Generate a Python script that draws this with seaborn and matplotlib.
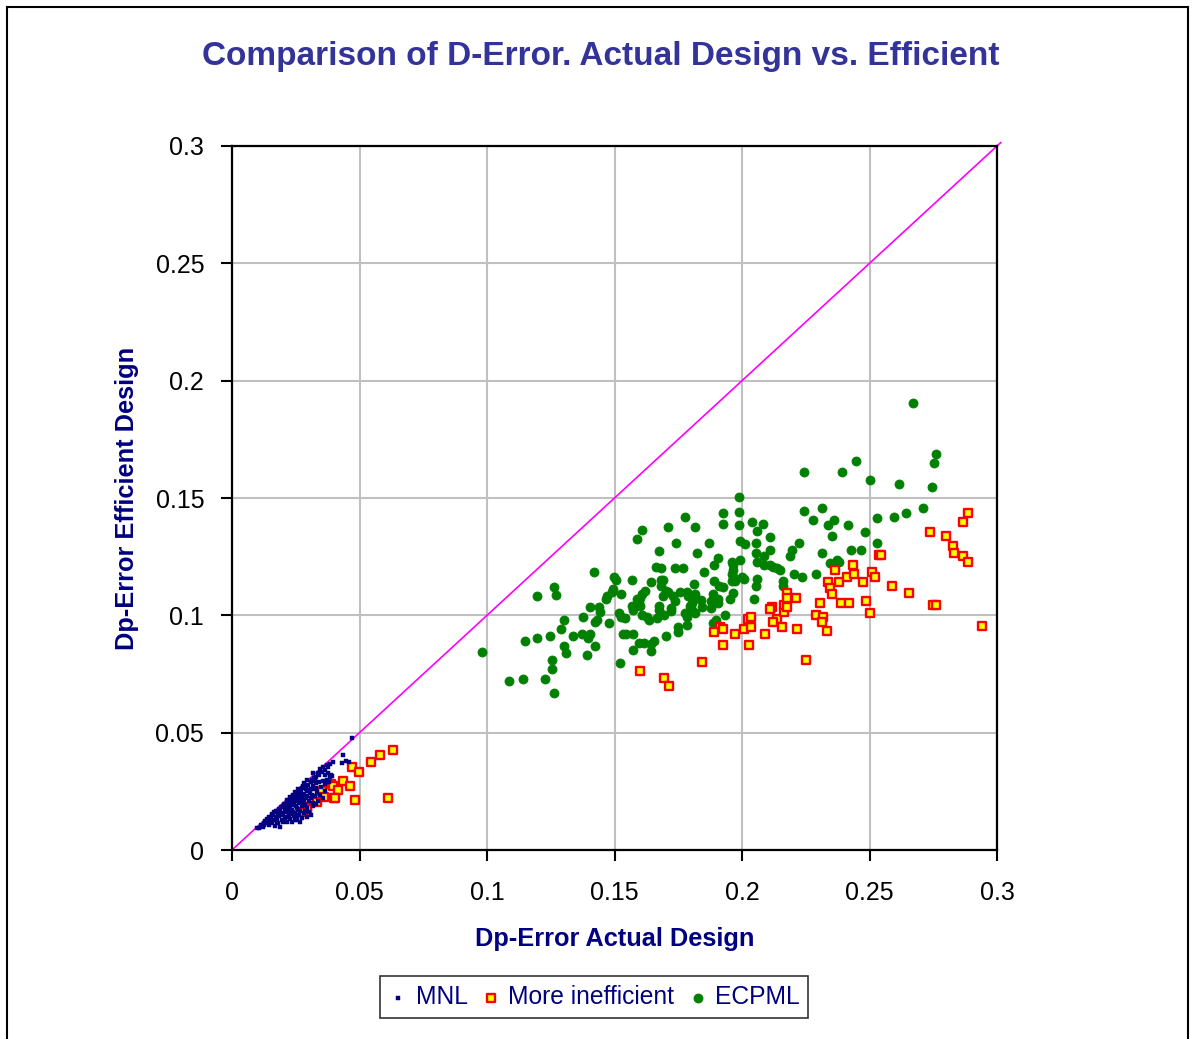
import matplotlib
matplotlib.use("Agg")
import matplotlib.pyplot as plt
import seaborn as sns
import pandas as pd
from matplotlib.patches import Rectangle

# ---------------- data ----------------
mnl_x = [0.0471,0.0437,0.0431,0.0458,0.0397,0.0386,0.0372,0.0344,0.0363,0.0385,0.0392,0.0336,0.0330,0.0316,0.0296,0.0309,0.0329,0.0363,0.0349,0.0364,
         0.0282,0.0275,0.0290,0.0302,0.0317,0.0261,0.0255,0.0268,0.0283,0.0296,0.0309,0.0324,0.0241,0.0228,0.0248,0.0262,0.0283,0.0302,0.0317,0.0337,
         0.0214,0.0201,0.0221,0.0234,0.0256,0.0276,0.0295,0.0188,0.0180,0.0201,0.0222,0.0242,0.0261,0.0281,0.0296,0.0161,0.0154,0.0174,0.0195,0.0214,
         0.0235,0.0255,0.0140,0.0127,0.0146,0.0167,0.0188,0.0120,0.0106,
         0.0205,0.0218,0.0231,0.0244,0.0252,0.0265,0.0271,0.0287,0.0299,0.0312,0.0322,0.0340,0.0351,0.0357,0.0378,0.0226,0.0238,0.0249,0.0259,0.0268,
         0.0278,0.0192,0.0183,0.0173,0.0165,0.0158,0.0147,0.0136,0.0131,0.0152,0.0162,0.0171,0.0178,0.0185,0.0193,0.0207,0.0213,0.0220,0.0227,0.0236,
         0.0245,0.0252,0.0258,0.0265,0.0270,0.0276,0.0286,0.0291,0.0305,0.0313,0.0318,0.0328,0.0334,0.0341,0.0355,0.0346,0.0357,0.0288,0.0302,0.0316,
         0.0329,0.0310,0.0248,0.0239,0.0229,0.0208,0.0199,0.0182,0.0175,0.0157,0.0139,0.0115,0.0125,0.0098,0.0214,0.0230,0.0256,0.0273,0.0266,0.0247,
         0.0208,0.0217,0.0239,0.0260,0.0281,0.0294,0.0308,0.0327,0.0378,0.0389,0.0371,0.0365,0.0381,0.0448]
mnl_y = [0.0479,0.0405,0.0372,0.0376,0.0374,0.0366,0.0362,0.0345,0.0341,0.0313,0.0316,0.0327,0.0311,0.0329,0.0297,0.0291,0.0284,0.0281,0.0268,0.0252,
         0.0285,0.0266,0.0261,0.0254,0.0259,0.0252,0.0240,0.0229,0.0238,0.0231,0.0222,0.0232,0.0231,0.0216,0.0208,0.0201,0.0210,0.0207,0.0201,0.0210,
         0.0203,0.0187,0.0178,0.0171,0.0180,0.0186,0.0178,0.0172,0.0157,0.0150,0.0148,0.0143,0.0150,0.0157,0.0141,0.0150,0.0136,0.0127,0.0129,0.0121,
         0.0119,0.0128,0.0129,0.0113,0.0106,0.0104,0.0099,0.0099,0.0092,
         0.0198,0.0192,0.0201,0.0219,0.0226,0.0239,0.0247,0.0270,0.0279,0.0300,0.0306,0.0319,0.0333,0.0352,0.0355,0.0224,0.0236,0.0247,0.0262,0.0255,
         0.0273,0.0184,0.0176,0.0168,0.0160,0.0154,0.0140,0.0131,0.0122,0.0119,0.0126,0.0142,0.0137,0.0144,0.0156,0.0163,0.0171,0.0161,0.0187,0.0192,
         0.0197,0.0188,0.0172,0.0165,0.0211,0.0198,0.0192,0.0221,0.0243,0.0236,0.0271,0.0264,0.0247,0.0290,0.0295,0.0236,0.0223,0.0166,0.0160,0.0187,
         0.0196,0.0148,0.0158,0.0160,0.0134,0.0137,0.0118,0.0114,0.0120,0.0113,0.0114,0.0106,0.0107,0.0093,0.0142,0.0152,0.0141,0.0135,0.0120,0.0126,
         0.0180,0.0212,0.0210,0.0217,0.0225,0.0250,0.0262,0.0293,0.0329,0.0318,0.0300,0.0319,0.0289,0.0379]

ineff_x = [0.0633,0.0579,0.0545,0.0471,0.0497,0.0436,0.0389,0.0397,0.0463,0.0416,0.0354,0.0362,0.0399,0.0405,0.0484,0.0612,0.0335,0.0295,0.0293,0.0280,
           0.1601,0.1695,0.1715,0.1845,0.1914,0.1927,0.1891,0.1974,0.1925,0.2007,0.2034,0.2022,0.2035,0.2027,0.2089,0.2136,0.2123,0.2156,0.2217,0.2116,
           0.2109,0.2164,0.2164,0.2178,0.2176,0.2176,0.2211,0.2251,0.2291,0.2319,0.2313,0.2332,0.2305,0.2338,0.2345,0.2353,0.2366,0.2380,0.2387,0.2413,
           0.2421,0.2434,0.2440,0.2475,0.2487,0.2502,0.2509,0.2523,0.2537,0.2544,0.2589,0.2656,0.2737,0.2750,0.2760,0.2800,0.2826,0.2833,0.2868,0.2887,
           0.2867,0.2887,0.2942]
ineff_y = [0.0426,0.0405,0.0375,0.0354,0.0331,0.0294,0.0280,0.0273,0.0273,0.0257,0.0250,0.0227,0.0220,0.0220,0.0213,0.0220,0.0206,0.0183,0.0176,0.0162,
           0.0764,0.0735,0.0699,0.0802,0.0949,0.0942,0.0927,0.0919,0.0874,0.0942,0.0949,0.0985,0.0993,0.0874,0.0919,0.0985,0.0972,0.0949,0.0942,0.1037,
           0.1029,0.1015,0.1045,0.1037,0.1096,0.1074,0.1074,0.0810,0.1000,0.0993,0.0972,0.0934,0.1053,0.1141,0.1117,0.1089,0.1192,0.1141,0.1053,0.1163,
           0.1053,0.1214,0.1177,0.1141,0.1060,0.1008,0.1185,0.1162,0.1258,0.1258,0.1126,0.1096,0.1353,0.1044,0.1044,0.1339,0.1295,0.1266,0.1398,0.1434,
           0.1251,0.1228,0.0956]

ecpml_x = [0.0979,0.1086,0.1140,0.1148,0.1195,0.1195,0.1263,0.1269,0.1229,0.1263,0.1256,0.1256,0.1248,0.1289,0.1303,0.1303,0.1310,0.1337,0.1371,0.1378,
           0.1391,0.1397,0.1404,0.1405,0.1418,0.1425,0.1425,0.1431,0.1438,0.1444,
           0.1778,0.1817,0.1710,0.1608,0.1587,0.1742,0.1676,0.1824,0.1662,0.1682,0.1736,0.1770,0.1499,0.1505,0.1567,0.1642,0.1682,0.1691,0.1682,0.1811,
           0.1495,0.1489,0.1621,0.1702,0.1710,0.1757,0.1783,0.1789,0.1817,0.1527,0.1608,0.1601,0.1689,0.1729,0.1472,0.1465,0.1587,0.1736,0.1811,0.1804,
           0.1595,0.1601,0.1567,0.1574,0.1676,0.1676,0.1723,0.1723,0.1797,0.1804,0.1519,0.1525,0.1608,0.1695,0.1776,0.1783,0.1817,0.1627,0.1635,0.1540,
           0.1668,0.1478,0.1783,0.1750,0.1750,0.1533,0.1546,0.1574,0.1702,0.1655,0.1595,0.1615,0.1642,0.1574,0.1642,0.1520,
           0.1987,0.1925,0.1987,0.1925,0.1987,0.2040,0.2081,0.2060,0.2109,0.1872,0.1993,0.2013,0.2054,0.2222,0.2109,0.2196,0.2054,0.1905,0.1891,0.1960,
           0.1966,0.1993,0.2060,0.2087,0.2188,0.2087,0.2109,0.2122,0.2136,0.2149,0.1851,0.1966,0.1960,0.1966,0.1960,0.2000,0.2007,0.2204,0.2060,0.2162,
           0.1891,0.1973,0.1911,0.1925,0.2054,0.2162,0.1966,0.1885,0.1839,0.1905,0.1905,0.1953,0.2047,0.1879,0.1879,0.1932,0.1898,0.1885,0.1843,
           0.2671,0.2760,0.2753,0.2447,0.2244,0.2393,0.2502,0.2617,0.2746,0.2711,0.2244,0.2313,0.2644,0.2597,0.2528,0.2278,0.2360,0.2338,0.2415,0.2481,
           0.2353,0.2528,0.2426,0.2468,0.2313,0.2345,0.2373,0.2379,0.2291,0.2236]
ecpml_y = [0.0845,0.0722,0.0727,0.0889,0.0905,0.1081,0.1119,0.1088,0.0727,0.0670,0.0773,0.0810,0.0912,0.0942,0.0979,0.0868,0.0839,0.0912,0.0919,0.0993,
           0.0831,0.0905,0.0919,0.1037,0.1183,0.0868,0.0970,0.0979,0.1037,0.1014,
           0.1420,0.1376,0.1376,0.1362,0.1324,0.1310,0.1273,0.1266,0.1207,0.1200,0.1200,0.1200,0.1163,0.1149,0.1149,0.1142,0.1149,0.1149,0.1126,0.1135,
           0.1112,0.1098,0.1105,0.1105,0.1098,0.1098,0.1098,0.1082,0.1091,0.1090,0.1090,0.1075,0.1082,0.1082,0.1082,0.1068,0.1068,0.1061,0.1068,0.1054,
           0.1054,0.1038,0.1038,0.1024,0.1038,0.1024,0.1031,0.1017,0.1038,0.1024,0.1009,0.0994,0.1001,0.1001,0.1009,0.0994,0.1009,0.0994,0.0980,0.0987,
           0.0987,0.0966,0.0957,0.0950,0.0929,0.0920,0.0920,0.0920,0.0913,0.0891,0.0884,0.0884,0.0877,0.0854,0.0847,0.0798,
           0.1503,0.1435,0.1442,0.1390,0.1384,0.1398,0.1390,0.1361,0.1333,0.1310,0.1317,0.1303,0.1310,0.1310,0.1280,0.1280,0.1266,0.1243,0.1214,0.1228,
           0.1214,0.1236,0.1228,0.1252,0.1252,0.1214,0.1214,0.1207,0.1200,0.1192,0.1185,0.1192,0.1177,0.1163,0.1148,0.1163,0.1155,0.1177,0.1155,0.1148,
           0.1148,0.1148,0.1126,0.1119,0.1126,0.1126,0.1096,0.1090,0.1065,0.1068,0.1054,0.1068,0.1068,0.1061,0.1031,0.1001,0.0980,0.0966,0.1036,
           0.1906,0.1686,0.1649,0.1656,0.1612,0.1612,0.1575,0.1560,0.1546,0.1457,0.1443,0.1457,0.1436,0.1420,0.1413,0.1406,0.1406,0.1384,0.1384,0.1354,
           0.1339,0.1310,0.1280,0.1280,0.1266,0.1222,0.1236,0.1228,0.1177,0.1163]

ticks = [0, 0.05, 0.1, 0.15, 0.2, 0.25, 0.3]
tick_labels = ["0", "0.05", "0.1", "0.15", "0.2", "0.25", "0.3"]
title = "Comparison of D-Error. Actual Design vs. Efficient"
xlabel = "Dp-Error Actual Design"
ylabel = "Dp-Error Efficient Design"
series_names = ["MNL", "More inefficient", "ECPML"]

# ---------------- plot ----------------
sns.set_theme(style="white")
plt.rcParams['font.family'] = ['Liberation Sans', 'DejaVu Sans']

W, H = 1192, 1039
fig = plt.figure(figsize=(W / 100, H / 100), dpi=100)
fig.patch.set_facecolor("white")
ax = fig.add_axes([232 / W, (H - 850) / H, 765 / W, 704 / H])
ax.set_facecolor("white")

# outer chart border
fig.patches.append(Rectangle((7 / W, -0.05), (1188 - 7) / W, 1 - 7 / H + 0.05,
                             transform=fig.transFigure, fill=False,
                             edgecolor="black", linewidth=1.5, zorder=0))

# diagonal
ax.plot([0, 0.3015], [0, 0.3015], color="#ff00ff", linewidth=1.2, zorder=2, clip_on=False)

df_mnl = pd.DataFrame({"x": mnl_x, "y": mnl_y})
df_ineff = pd.DataFrame({"x": ineff_x, "y": ineff_y})
df_ecp = pd.DataFrame({"x": ecpml_x, "y": ecpml_y})

sns.scatterplot(data=df_ecp, x="x", y="y", ax=ax, marker="o", s=42, color="#008000",
                edgecolor="#008000", linewidth=0.6, zorder=3, label=series_names[2])
sns.scatterplot(data=df_ineff, x="x", y="y", ax=ax, marker="s", s=28, color="#ffff00",
                edgecolor="#ff0000", linewidth=1.7, zorder=4, label=series_names[1])
sns.scatterplot(data=df_mnl, x="x", y="y", ax=ax, marker="s", s=10, color="#000080",
                edgecolor="#000080", linewidth=0.3, zorder=5, label=series_names[0])

ax.set_xlim(0, 0.3)
ax.set_ylim(0, 0.3)
ax.set_xticks(ticks)
ax.set_yticks(ticks)
ax.set_xticklabels(tick_labels)
ax.set_yticklabels(tick_labels)
ax.grid(True, color="#c0c0c0", linewidth=1.5, zorder=0)
ax.set_axisbelow(True)
for sp in ax.spines.values():
    sp.set_visible(True)
    sp.set_color("black")
    sp.set_linewidth(1.6)
ax.tick_params(axis="both", which="major", direction="out", length=8, width=1.5,
               color="black", labelsize=18, labelcolor="black",
               bottom=True, left=True)
ax.tick_params(axis="x", pad=14)
ax.tick_params(axis="y", pad=12)

ax.set_xlabel(xlabel, fontsize=18.3, fontweight="bold", color="#000080", labelpad=16)
ax.set_ylabel(ylabel, fontsize=18.3, fontweight="bold", color="#000080", labelpad=12)

fig.text(601 / W, 1 - 56 / H, title, ha="center", va="center", fontsize=24,
         fontweight="bold", color="#333399")

# legend
handles, labels = ax.get_legend_handles_labels()
order = [labels.index(n) for n in series_names]
if ax.get_legend():
    ax.get_legend().remove()
leg = fig.legend([handles[i] for i in order], [labels[i] for i in order],
                 loc="center", bbox_to_anchor=(594 / W, 1 - 997 / H), ncol=3,
                 frameon=True, fancybox=False, fontsize=17.7, handletextpad=0.3,
                 columnspacing=0.55, borderpad=0.35, borderaxespad=0.2,
                 handlelength=0.8)
leg.get_frame().set_edgecolor("black")
leg.get_frame().set_linewidth(1.2)
for t in leg.get_texts():
    t.set_color("#000080")

fig.savefig("out.png", dpi=100)
